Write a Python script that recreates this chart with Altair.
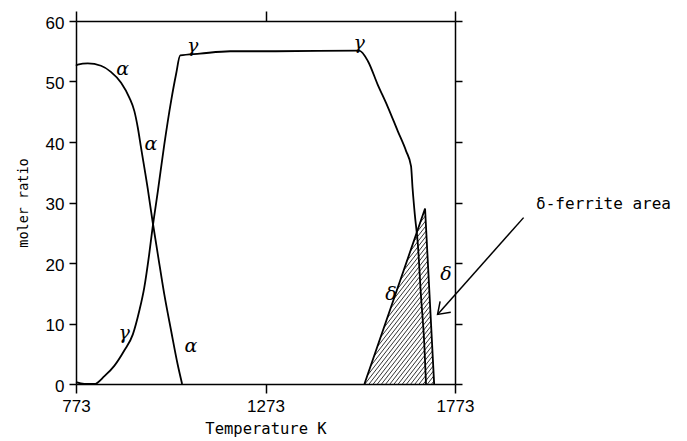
import altair as alt
import pandas as pd
import numpy as np

# ---- data ----
alpha_T = [773, 777.5, 804, 839, 865, 892, 914, 927, 936, 944.5, 962, 975, 989, 1006, 1024, 1041, 1053]
alpha_y = [52.6, 52.8, 53.0, 52.6, 51.6, 49.8, 47.3, 45.1, 42.4, 39.1, 32.4, 26.9, 21.4, 14.8, 8.8, 3.3, 0.0]

gamma_T = [773, 795, 821, 848, 874, 900, 923, 940, 953, 966, 975, 989, 1006, 1024, 1037, 1048,
           1100, 1180, 1300, 1520, 1543, 1569, 1595, 1622, 1644, 1657, 1661, 1667, 1675, 1683, 1692, 1696.5]
gamma_y = [0.3, 0.0, 0.0, 1.3, 3.0, 5.5, 8.2, 12.1, 15.9, 21.4, 25.8, 31.9, 39.6, 46.8, 51.2, 54.3,
           54.6, 55.0, 55.0, 55.1, 53.4, 49.5, 45.9, 41.8, 38.5, 36.0, 32.4, 28.0, 23.1, 14.8, 6.6, 0.0]

delta_T = [1534, 1694, 1718]
delta_y = [0.0, 29.0, 0.0]

greek_text = ["α", "α", "α", "γ", "γ", "γ", "δ", "δ"]
greek_T = [896, 971, 1076, 1081, 900, 1520, 1604, 1749]
greek_y = [52.0, 39.7, 6.3, 55.9, 8.5, 56.4, 14.8, 18.1]

note_text = ["δ-ferrite area"]
note_T = [1987]
note_y = [29.8]

arrow_T = [1954, 1727]
arrow_y = [27.5, 11.5]

x_ticks = [773, 1273, 1773]
y_ticks = [0, 10, 20, 30, 40, 50, 60]

W, H = 379, 363
xs = alt.Scale(domain=[773, 1773], nice=False, zero=False)
ys = alt.Scale(domain=[0, 60], nice=False, zero=False)

# ---- hatch lines clipped to the delta polygon ----
px_per_T = W / 1000.0
px_per_y = H / 60.0
slope = np.tan(np.radians(52)) * px_per_T / px_per_y   # data units per K
step_T = 11.0
poly = list(zip(delta_T, delta_y)) + [(delta_T[0], delta_y[0])]
hmin = min(delta_T) - max(delta_y) / slope
segs = []
c = hmin
while c < max(delta_T):
    pts = []
    for (t1, y1), (t2, y2) in zip(poly[:-1], poly[1:]):
        f1 = y1 - slope * (t1 - c)
        f2 = y2 - slope * (t2 - c)
        if f1 == f2:
            continue
        if f1 * f2 <= 0:
            u = f1 / (f1 - f2)
            pts.append((t1 + u * (t2 - t1), y1 + u * (y2 - y1)))
    if len(pts) >= 2:
        pts.sort()
        a, b = pts[0], pts[-1]
        if b[0] - a[0] > 0.5:
            segs.append({"x0": a[0], "y0": a[1], "x1": b[0], "y1": b[1]})
    c += step_T
hatch_df = pd.DataFrame(segs)

alpha_df = pd.DataFrame({"T": alpha_T, "v": alpha_y})
gamma_df = pd.DataFrame({"T": gamma_T, "v": gamma_y})
delta_df = pd.DataFrame({"T": delta_T, "v": delta_y})
greek_df = pd.DataFrame({"T": greek_T, "v": greek_y, "t": greek_text})
note_df = pd.DataFrame({"T": note_T, "v": note_y, "t": note_text})
arrow_df = pd.DataFrame({"T": arrow_T, "v": arrow_y})
head_df = arrow_df.iloc[[1]]

tick_font = "Liberation Sans"
mono = "DejaVu Sans Mono"
LW = 1.8

def xn(f="T"):
    return alt.X(f"{f}:Q", scale=xs, axis=None)

def yn(f="v"):
    return alt.Y(f"{f}:Q", scale=ys, axis=None)

hatch = alt.Chart(hatch_df).mark_rule(color="black", strokeWidth=0.8).encode(
    x=xn("x0"), y=yn("y0"), x2="x1:Q", y2="y1:Q")

delta_line = alt.Chart(delta_df).mark_line(color="black", strokeWidth=LW).encode(
    x=xn(), y=yn(), order="T:Q")

alpha_line = alt.Chart(alpha_df).mark_line(color="black", strokeWidth=LW, interpolate="monotone").encode(
    x=alt.X("T:Q", scale=xs, title="Temperature K",
            axis=alt.Axis(orient="bottom", values=x_ticks, format="d", tickSize=9, labelFont=tick_font,
                          labelFontSize=17, labelPadding=5, titleFont=mono, titleFontSize=15.5,
                          titleFontWeight="normal", titlePadding=7, labelFlush=False)),
    y=alt.Y("v:Q", scale=ys, title="moler ratio",
            axis=alt.Axis(orient="left", values=y_ticks, tickSize=7, labelFont=tick_font,
                          labelFontSize=17, labelPadding=5, titleFont=mono, titleFontSize=13.5,
                          titleFontWeight="normal", titlePadding=15, labelFlush=False,
                          labelOffset=2)),
    order="T:Q")

gamma_line = alt.Chart(gamma_df).mark_line(color="black", strokeWidth=LW, interpolate="monotone").encode(
    x=alt.X("T:Q", scale=xs, title=None,
            axis=alt.Axis(orient="top", values=x_ticks, tickSize=10, labels=False)),
    y=alt.Y("v:Q", scale=ys, title=None,
            axis=alt.Axis(orient="right", values=y_ticks, tickSize=7, labels=False)),
    order="T:Q")

greek = alt.Chart(greek_df).mark_text(font="DejaVu Serif", fontStyle="italic", fontSize=19,
                                      color="black").encode(x=xn(), y=yn(), text="t:N")

arrow = alt.Chart(arrow_df).mark_line(color="black", strokeWidth=1.5).encode(
    x=xn(), y=yn(), order="T:Q")
head = alt.Chart(head_df).mark_point(shape="M -1 -0.7 L 0 0 L -1 0.7", size=480, angle=136,
                                     filled=False, color="black", strokeWidth=1.5, opacity=1).encode(
    x=xn(), y=yn())

note = alt.Chart(note_df).mark_text(font=mono, fontSize=16, align="left", baseline="middle",
                                    color="black").encode(x=xn(), y=yn(), text="t:N")

chart = alt.layer(hatch, delta_line, alpha_line, gamma_line, greek, arrow, head, note).resolve_axis(
    x="independent", y="independent"
).properties(
    width=W, height=H, padding={"left": 8, "top": 2, "right": 5, "bottom": 0}, background="white"
).configure_view(stroke=None).configure_axis(
    grid=False, domainColor="black", tickColor="black", domainWidth=1.5, tickWidth=1.5,
    labelColor="black", titleColor="black"
)

chart.save("out.html", embed_options={"renderer": "svg", "actions": False})
